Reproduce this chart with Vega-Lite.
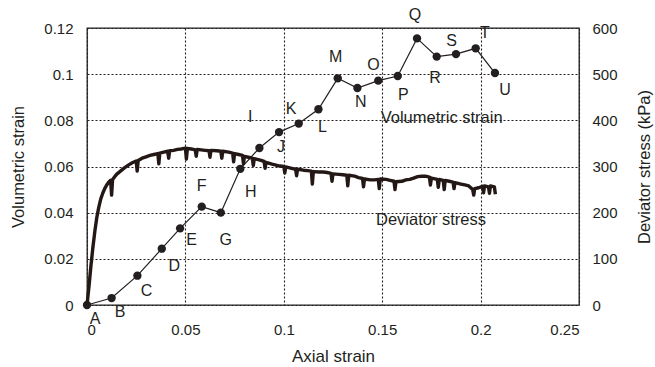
{
  "$schema": "https://vega.github.io/schema/vega-lite/v6.json",
  "width": 492,
  "height": 277,
  "autosize": "none",
  "padding": {"left": 87, "top": 28, "right": 76, "bottom": 62},
  "background": "white",
  "config": {
    "view": {"stroke": "#231f20", "strokeWidth": 1.3},
    "font": "Liberation Sans",
    "axis": {
      "labelFont": "Liberation Sans",
      "titleFont": "Liberation Sans",
      "labelFontSize": 15,
      "titleFontSize": 16.5,
      "labelColor": "#231f20",
      "titleColor": "#231f20",
      "titleFontWeight": "normal",
      "domain": false,
      "ticks": false,
      "gridColor": "#231f20",
      "gridDash": [2, 2],
      "gridWidth": 1.1,
      "gridOpacity": 1
    }
  },
  "datasets": {
    "vol": [
      {"x": 0, "y": 0},
      {"x": 0.0125, "y": 0.003},
      {"x": 0.0256, "y": 0.0127},
      {"x": 0.038, "y": 0.0244},
      {"x": 0.0473, "y": 0.0332},
      {"x": 0.0583, "y": 0.0426},
      {"x": 0.068, "y": 0.040},
      {"x": 0.0779, "y": 0.059},
      {"x": 0.0876, "y": 0.068},
      {"x": 0.0976, "y": 0.0749},
      {"x": 0.1076, "y": 0.0786},
      {"x": 0.1176, "y": 0.0848},
      {"x": 0.1274, "y": 0.0982},
      {"x": 0.1374, "y": 0.094},
      {"x": 0.148, "y": 0.0972},
      {"x": 0.1579, "y": 0.0992},
      {"x": 0.1677, "y": 0.1155},
      {"x": 0.1777, "y": 0.1076},
      {"x": 0.1875, "y": 0.1087},
      {"x": 0.1975, "y": 0.1112},
      {"x": 0.2073, "y": 0.1005}
    ],
    "labels": [
      {"x": 0.0041, "y": -0.0060, "t": "A"},
      {"x": 0.0168, "y": -0.0030, "t": "B"},
      {"x": 0.0303, "y": 0.0062, "t": "C"},
      {"x": 0.0444, "y": 0.0169, "t": "D"},
      {"x": 0.0532, "y": 0.0281, "t": "E"},
      {"x": 0.0583, "y": 0.0516, "t": "F"},
      {"x": 0.0705, "y": 0.0281, "t": "G"},
      {"x": 0.0832, "y": 0.0489, "t": "H"},
      {"x": 0.0829, "y": 0.0813, "t": "I"},
      {"x": 0.0986, "y": 0.0686, "t": "J"},
      {"x": 0.1037, "y": 0.0848, "t": "K"},
      {"x": 0.1196, "y": 0.0770, "t": "L"},
      {"x": 0.1264, "y": 0.1073, "t": "M"},
      {"x": 0.1391, "y": 0.0881, "t": "N"},
      {"x": 0.1455, "y": 0.1040, "t": "O"},
      {"x": 0.1607, "y": 0.0910, "t": "P"},
      {"x": 0.1667, "y": 0.1257, "t": "Q"},
      {"x": 0.1768, "y": 0.0985, "t": "R"},
      {"x": 0.1853, "y": 0.1145, "t": "S"},
      {"x": 0.2022, "y": 0.1177, "t": "T"},
      {"x": 0.2124, "y": 0.0932, "t": "U"}
    ],
    "notes": [
      {"x": 0.1802, "y": 0.0809, "t": "Volumetric strain"},
      {"x": 0.1748, "y": 0.0368, "t": "Deviator stress"}
    ],
    "dev": [
      {"x": 0, "s": 0}, {"x": 0.001, "s": 40}, {"x": 0.002, "s": 85}, {"x": 0.003, "s": 125},
      {"x": 0.004, "s": 160}, {"x": 0.005, "s": 190}, {"x": 0.006, "s": 212}, {"x": 0.007, "s": 230},
      {"x": 0.008, "s": 242}, {"x": 0.009, "s": 252}, {"x": 0.010, "s": 260}, {"x": 0.011, "s": 266},
      {"x": 0.012, "s": 270}, {"x": 0.0125, "s": 238}, {"x": 0.013, "s": 272}, {"x": 0.015, "s": 283},
      {"x": 0.017, "s": 290}, {"x": 0.019, "s": 297}, {"x": 0.021, "s": 303}, {"x": 0.023, "s": 308},
      {"x": 0.025, "s": 312}, {"x": 0.0255, "s": 290}, {"x": 0.026, "s": 313}, {"x": 0.028, "s": 318},
      {"x": 0.030, "s": 321}, {"x": 0.032, "s": 324}, {"x": 0.034, "s": 326}, {"x": 0.036, "s": 328},
      {"x": 0.0365, "s": 306}, {"x": 0.037, "s": 329}, {"x": 0.039, "s": 331}, {"x": 0.041, "s": 333},
      {"x": 0.0415, "s": 318}, {"x": 0.042, "s": 334}, {"x": 0.044, "s": 335}, {"x": 0.046, "s": 337},
      {"x": 0.048, "s": 338}, {"x": 0.050, "s": 340}, {"x": 0.0505, "s": 316}, {"x": 0.051, "s": 339},
      {"x": 0.053, "s": 338}, {"x": 0.055, "s": 336}, {"x": 0.0555, "s": 322}, {"x": 0.056, "s": 337},
      {"x": 0.058, "s": 336}, {"x": 0.060, "s": 335}, {"x": 0.062, "s": 334}, {"x": 0.0625, "s": 320},
      {"x": 0.063, "s": 335}, {"x": 0.066, "s": 334}, {"x": 0.068, "s": 333}, {"x": 0.0685, "s": 318},
      {"x": 0.069, "s": 333}, {"x": 0.072, "s": 331}, {"x": 0.074, "s": 329}, {"x": 0.0745, "s": 310},
      {"x": 0.075, "s": 328}, {"x": 0.077, "s": 326}, {"x": 0.079, "s": 324}, {"x": 0.0795, "s": 306},
      {"x": 0.080, "s": 322}, {"x": 0.082, "s": 320}, {"x": 0.084, "s": 318}, {"x": 0.0845, "s": 302},
      {"x": 0.085, "s": 317}, {"x": 0.088, "s": 314}, {"x": 0.090, "s": 311}, {"x": 0.0905, "s": 296},
      {"x": 0.091, "s": 309}, {"x": 0.094, "s": 305}, {"x": 0.096, "s": 303}, {"x": 0.098, "s": 301},
      {"x": 0.100, "s": 300}, {"x": 0.1005, "s": 286}, {"x": 0.101, "s": 299}, {"x": 0.104, "s": 296},
      {"x": 0.106, "s": 294}, {"x": 0.1065, "s": 280}, {"x": 0.107, "s": 294}, {"x": 0.110, "s": 292},
      {"x": 0.112, "s": 291}, {"x": 0.114, "s": 290}, {"x": 0.1145, "s": 262}, {"x": 0.115, "s": 289},
      {"x": 0.118, "s": 288}, {"x": 0.120, "s": 288}, {"x": 0.122, "s": 287}, {"x": 0.124, "s": 285},
      {"x": 0.1245, "s": 268}, {"x": 0.125, "s": 284}, {"x": 0.128, "s": 283}, {"x": 0.130, "s": 282},
      {"x": 0.132, "s": 281}, {"x": 0.1325, "s": 258}, {"x": 0.133, "s": 281}, {"x": 0.136, "s": 279},
      {"x": 0.138, "s": 276}, {"x": 0.140, "s": 274}, {"x": 0.1405, "s": 256}, {"x": 0.141, "s": 273},
      {"x": 0.144, "s": 271}, {"x": 0.146, "s": 271}, {"x": 0.148, "s": 272}, {"x": 0.1485, "s": 252},
      {"x": 0.149, "s": 273}, {"x": 0.152, "s": 272}, {"x": 0.154, "s": 270}, {"x": 0.156, "s": 268},
      {"x": 0.1565, "s": 250}, {"x": 0.157, "s": 267}, {"x": 0.160, "s": 268}, {"x": 0.162, "s": 271},
      {"x": 0.164, "s": 272}, {"x": 0.166, "s": 275}, {"x": 0.168, "s": 278}, {"x": 0.170, "s": 279},
      {"x": 0.172, "s": 279}, {"x": 0.174, "s": 277}, {"x": 0.1745, "s": 260}, {"x": 0.175, "s": 275},
      {"x": 0.178, "s": 272}, {"x": 0.1785, "s": 255}, {"x": 0.179, "s": 272}, {"x": 0.181, "s": 270},
      {"x": 0.1815, "s": 250}, {"x": 0.182, "s": 270}, {"x": 0.184, "s": 268}, {"x": 0.186, "s": 266},
      {"x": 0.1865, "s": 252}, {"x": 0.187, "s": 265}, {"x": 0.190, "s": 262}, {"x": 0.192, "s": 260},
      {"x": 0.194, "s": 258}, {"x": 0.196, "s": 250}, {"x": 0.1965, "s": 238}, {"x": 0.197, "s": 252},
      {"x": 0.199, "s": 254}, {"x": 0.201, "s": 257}, {"x": 0.2015, "s": 243}, {"x": 0.202, "s": 258},
      {"x": 0.204, "s": 256}, {"x": 0.2045, "s": 242}, {"x": 0.205, "s": 258}, {"x": 0.207, "s": 256},
      {"x": 0.2075, "s": 240}
    ]
  },
  "encoding": {
    "x": {
      "field": "x", "type": "quantitative",
      "scale": {"domain": [0, 0.25], "nice": false, "zero": false},
      "axis": {"values": [0, 0.05, 0.1, 0.15, 0.2, 0.25], "format": ".2~f", "title": "Axial strain", "titleFontSize": 17, "labelPadding": 17, "titlePadding": 11, "grid": true}
    }
  },
  "layer": [
    {
      "encoding": {
        "y": {
          "field": "y", "type": "quantitative",
          "scale": {"domain": [0, 0.12], "nice": false, "zero": false},
          "axis": {"values": [0, 0.02, 0.04, 0.06, 0.08, 0.1, 0.12], "format": ".2~f", "title": "Volumetric strain", "labelPadding": 14, "titlePadding": 17, "grid": true}
        }
      },
      "layer": [
        {
          "data": {"name": "vol"},
          "mark": {"type": "line", "color": "#231f20", "strokeWidth": 1.2}
        },
        {
          "data": {"name": "vol"},
          "mark": {"type": "circle", "color": "#231f20", "size": 70, "opacity": 1}
        },
        {
          "data": {"name": "labels"},
          "mark": {"type": "text", "font": "Liberation Sans", "fontSize": 16, "color": "#231f20", "align": "center", "baseline": "middle"},
          "encoding": {"text": {"field": "t"}}
        },
        {
          "data": {"name": "notes"},
          "mark": {"type": "text", "font": "Liberation Sans", "fontSize": 16.5, "color": "#231f20", "align": "center", "baseline": "middle"},
          "encoding": {"text": {"field": "t"}}
        }
      ]
    },
    {
      "data": {"name": "dev"},
      "mark": {"type": "line", "color": "#231815", "strokeWidth": 3.4, "strokeJoin": "round"},
      "encoding": {
        "y": {
          "field": "s", "type": "quantitative",
          "scale": {"domain": [0, 600], "nice": false},
          "axis": {"orient": "right", "values": [0, 100, 200, 300, 400, 500, 600], "title": "Deviator stress (kPa)", "titleAngle": -90, "labelPadding": 13, "titlePadding": 35, "grid": false}
        }
      }
    }
  ],
  "resolve": {"scale": {"y": "independent"}}
}
